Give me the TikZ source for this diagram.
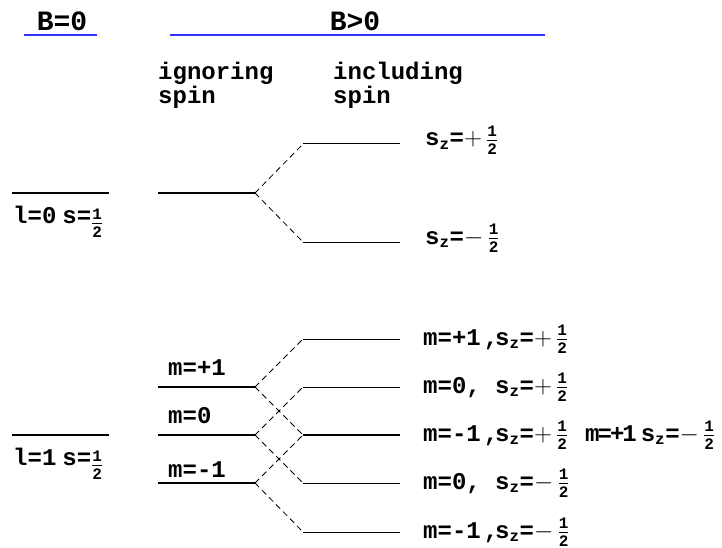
\documentclass[tikz,border=0pt]{standalone}
\usepackage{fontspec}
\setmainfont{Liberation Mono}
\usepackage{tikz}

\newcommand{\fracfont}{\fontsize{16}{16}\selectfont\bfseries}
\newcommand{\halfval}{\ensuremath{\frac{\mbox{\fracfont 1}}{\mbox{\fracfont 2}}}}
\newcommand{\szval}{s\ensuremath{_{\mbox{\fracfont z}}}}
\newcommand{\plusval}{\ensuremath{+\,}\halfval}
\newcommand{\minusval}{\ensuremath{-\,}\halfval}

\begin{document}
\begin{tikzpicture}[x=1pt, y=-1pt,
    txt/.style={font=\fontsize{24}{21}\selectfont\bfseries, inner sep=0pt, anchor=base west},
    head/.style={font=\fontsize{28}{30}\selectfont\bfseries, inner sep=0pt, anchor=base},
    bline/.style={blue!80, line width=1.5pt},
    thicklevel/.style={line width=2pt},
    thinlevel/.style={line width=1pt},
    split/.style={line width=0.8pt, dash pattern=on 6pt off 4pt}]
  \useasboundingbox (0,0) rectangle (722,548);

  % headers
  \node[head] (bzero) at (62,31) {B=0};
  \node[head] (bpos) at (355,31) {B>0};
  \draw[bline] (24,35) -- (97,35);
  \draw[bline] (170,35) -- (545,35);
  \node[txt, align=left, anchor=north west] (ign) at (158,62) {ignoring\\spin};
  \node[txt, align=left, anchor=north west] (inc) at (333,62) {including\\spin};

  % l=0
  \draw[thicklevel] (12,193) -- (109,193);
  \node[txt] (lzero) at (13,223) {l=0\hspace{6pt}s=\raisebox{-6pt}{\halfval}};
  \coordinate (a0) at (255,193);
  \draw[thicklevel] (158,193) -- (a0);
  \coordinate (u0) at (303,144);
  \coordinate (d0) at (303,242);
  \draw[thinlevel] (u0) -- ++(97,0);
  \draw[thinlevel] (d0) -- ++(97,0);
  \draw[split] (a0) -- (u0);
  \draw[split] (a0) -- (d0);
  \node[txt] (szu) at (425,146) {\szval=\plusval};
  \node[txt] (szd) at (425,244) {\szval=\minusval};

  % l=1
  \draw[thicklevel] (12,435) -- (109,435);
  \node[txt] (lone) at (13,465) {l=1\hspace{6pt}s=\raisebox{-6pt}{\halfval}};
  \coordinate (p1) at (255,387);
  \coordinate (z1) at (255,435);
  \coordinate (n1) at (255,483);
  \draw[thicklevel] (158,387) -- (p1);
  \draw[thicklevel] (158,435) -- (z1);
  \draw[thicklevel] (158,483) -- (n1);
  \node[txt] (mp) at (168,375) {m=+1};
  \node[txt] (mz) at (168,423) {m=0};
  \node[txt] (mn) at (168,477) {m=-1};

  \coordinate (r1) at (303,339);
  \coordinate (r2) at (303,387);
  \coordinate (r3) at (303,435);
  \coordinate (r4) at (303,483);
  \coordinate (r5) at (303,532);
  \draw[thinlevel] (r1) -- ++(97,0);
  \draw[thinlevel] (r2) -- ++(97,0);
  \draw[thicklevel] (r3) -- ++(97,0);
  \draw[thinlevel] (r4) -- ++(97,0);
  \draw[thinlevel] (r5) -- ++(97,0);

  \draw[split] (p1) -- (r1);
  \draw[split] (p1) -- (r3);
  \draw[split] (z1) -- (r2);
  \draw[split] (z1) -- (r4);
  \draw[split] (n1) -- (r3);
  \draw[split] (n1) -- (r5);

  \node[txt] (k1) at (423,345) {m=+1\kern3pt,\kern-3pt\szval=\plusval};
  \node[txt] (k2) at (423,393) {m=0, \szval=\plusval};
  \node[txt] (k3) at (423,441) {m=-1\kern3pt,\kern-3pt\szval=\plusval};
  \node[txt] (k3b) at (585,441) {m\kern-2pt=\kern-2pt+\kern-2pt1\kern4pt\szval=\minusval};
  \node[txt] (k4) at (423,489) {m=0, \szval=\minusval};
  \node[txt] (k5) at (423,538) {m=-1\kern3pt,\kern-3pt\szval=\minusval};
\end{tikzpicture}
\end{document}
